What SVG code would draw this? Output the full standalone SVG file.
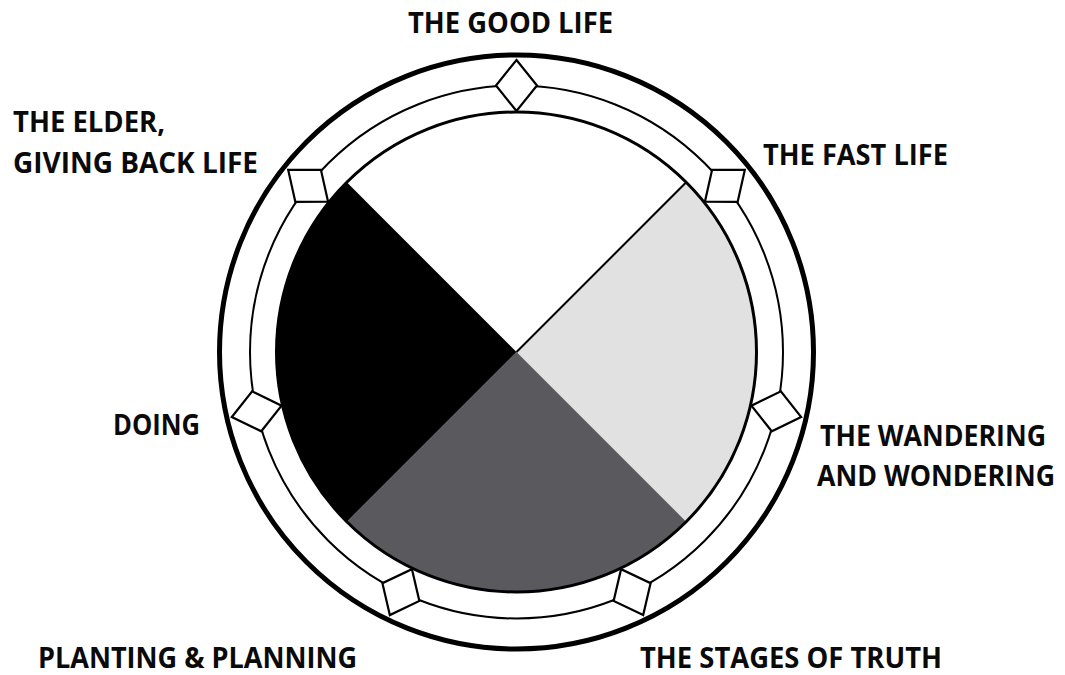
<svg xmlns="http://www.w3.org/2000/svg" width="1065" height="675" viewBox="0 0 1065 675">
<style>
.lbl{font-family:"Open Sans","Liberation Sans",sans-serif;font-weight:700;font-size:28px;fill:#0a0a0a}
.ring{fill:none;stroke:#000}
.dia{fill:#fff;stroke:#000;stroke-width:2.2;stroke-linejoin:miter}
</style>
<defs>
<polygon id="d" points="0,-292 20.5,-266.5 0,-241 -20.5,-266.5"/>
</defs>
<rect width="1065" height="675" fill="#fff"/>
<g id="wheel">
<circle class="ring" cx="516.5" cy="352" r="297" stroke-width="5"/>
<circle class="ring" cx="516.5" cy="352" r="266.5" stroke-width="2"/>
<g id="quadrants">
<path d="M516.5,352 L346.8,182.3 A240,240 0 0 1 686.2,182.3 Z" fill="#fff"/>
<path d="M516.5,352 L686.2,182.3 A240,240 0 0 1 686.2,521.7 Z" fill="#e1e1e1"/>
<path d="M516.5,352 L686.2,521.7 A240,240 0 0 1 346.8,521.7 Z" fill="#5a5a5e"/>
<path d="M516.5,352 L346.8,521.7 A240,240 0 0 1 346.8,182.3 Z" fill="#000"/>
<line x1="516.5" y1="352" x2="686.2" y2="182.3" stroke="#000" stroke-width="2"/>
</g>
<circle class="ring" cx="516.5" cy="352" r="240" stroke-width="3"/>
</g>
<g id="markers" transform="translate(516.5,352)">
<use href="#d" class="dia" transform="rotate(0)"/>
<use href="#d" class="dia" transform="rotate(51.43)"/>
<use href="#d" class="dia" transform="rotate(102.86)"/>
<use href="#d" class="dia" transform="rotate(154.29)"/>
<use href="#d" class="dia" transform="rotate(205.71)"/>
<use href="#d" class="dia" transform="rotate(257.14)"/>
<use href="#d" class="dia" transform="rotate(308.57)"/>
</g>
<g id="labels">
<g id="good-life"><text class="lbl" x="408" y="33" textLength="205" lengthAdjust="spacingAndGlyphs">THE GOOD LIFE</text></g>
<g id="fast-life"><text class="lbl" x="763" y="165" textLength="185" lengthAdjust="spacingAndGlyphs">THE FAST LIFE</text></g>
<g id="wandering"><text class="lbl" x="820" y="446" textLength="226" lengthAdjust="spacingAndGlyphs">THE WANDERING</text>
<text class="lbl" x="817" y="486" textLength="238" lengthAdjust="spacingAndGlyphs">AND WONDERING</text></g>
<g id="stages"><text class="lbl" x="640" y="668" textLength="302" lengthAdjust="spacingAndGlyphs">THE STAGES OF TRUTH</text></g>
<g id="planting"><text class="lbl" x="38" y="668" textLength="319" lengthAdjust="spacingAndGlyphs">PLANTING &amp; PLANNING</text></g>
<g id="doing"><text class="lbl" x="113" y="435" textLength="87" lengthAdjust="spacingAndGlyphs">DOING</text></g>
<g id="elder"><text class="lbl" x="13" y="132" textLength="152" lengthAdjust="spacingAndGlyphs">THE ELDER,</text>
<text class="lbl" x="13" y="173" textLength="245" lengthAdjust="spacingAndGlyphs">GIVING BACK LIFE</text></g>
</g>
</svg>
